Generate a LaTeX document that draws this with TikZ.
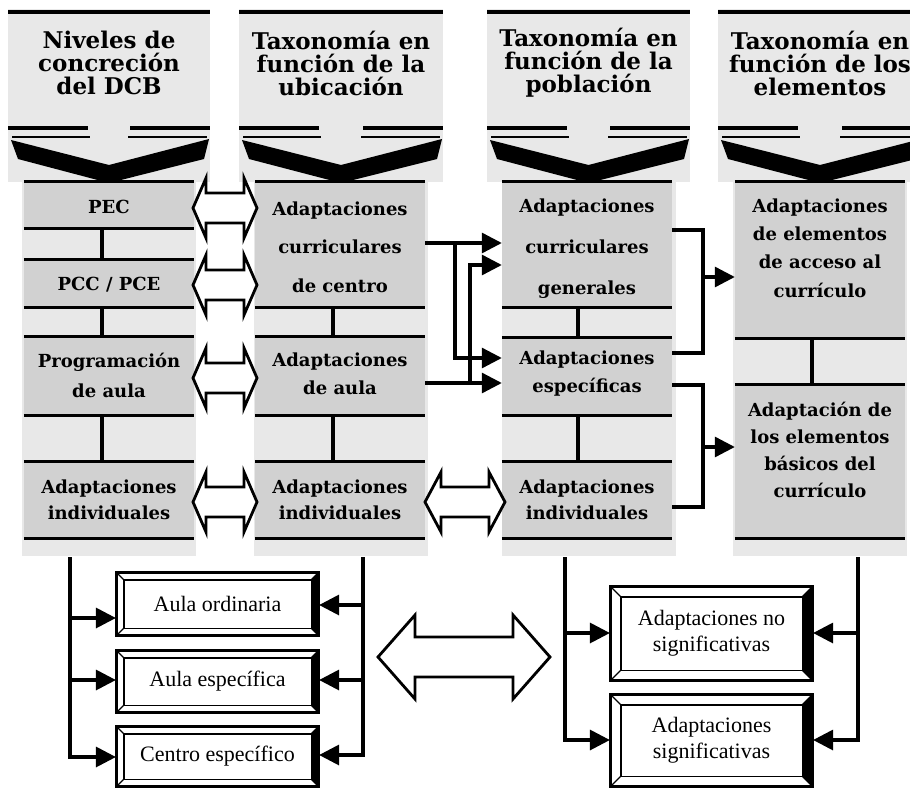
\documentclass[tikz,border=0pt]{standalone}
\usepackage{fontspec}
\setmainfont{Liberation Serif}
\newfontfamily\hdfont{DejaVu Serif}
\usetikzlibrary{arrows.meta}

\tikzset{
 rule/.style={line width=3.2pt},
 peg/.style={line width=4pt},
 conn/.style={line width=3.2pt},
 arr/.style={conn, -{Triangle[length=20pt,width=20pt]}},
 hollow/.style={draw, line width=2.8pt, fill=white, line join=miter},
 boxfill/.style={fill=gray!36, draw=none, inner sep=0pt, minimum width=170pt},
 hdtext/.style={font=\hdfont\bfseries\fontsize{23}{23}\selectfont, align=center, inner sep=0pt},
 bodytext/.style={font=\hdfont\bfseries\fontsize{18}{#1}\selectfont, align=center, inner sep=0pt},
 bodytext/.default=22,
 bevelbox/.style={draw, line width=2.2pt, fill=white, inner sep=0pt, font=\fontsize{22}{26}\selectfont, align=center},
}

\newcommand\hdr[4]{%
 \pgfmathsetmacro\hcx{(#1+#2)/2}
 \fill[gray!18] (#1,9) rectangle (#2,182);
 \fill[gray!18] (\hcx-87,182) rectangle (\hcx+87,556);
 \draw[rule] (#1,12) -- (#2,12);
 \draw[rule] (#1,128) -- (#1+80,128);
 \draw[rule] (#2-80,128) -- (#2,128);
 \draw[line width=1.6pt] (#1+4,137) -- (#1+82,137);
 \draw[line width=1.6pt] (#2-82,137) -- (#2-3,137);
 \fill (#1+3,140) -- (\hcx,165) -- (#2-1,139) -- (#2-6,159) -- (\hcx,183) -- (#1+10,159) -- cycle;
 \node[hdtext] (#3) at (\hcx,63) {#4};
}

\newcommand\bbox[4]{%
 \node[boxfill, minimum height={#4-#3}] (#1) at (#2,{(#3+#4)/2}) {};
 \draw[rule] (#1.north west) -- (#1.north east) (#1.south west) -- (#1.south east);
}

\newcommand\dbl[6]{%
 \draw[hollow] (#1,#3) -- (#1+#4,#3-#5) -- (#1+#4,#3-#6) -- (#2-#4,#3-#6) -- (#2-#4,#3-#5) -- (#2,#3) -- (#2-#4,#3+#5) -- (#2-#4,#3+#6) -- (#1+#4,#3+#6) -- (#1+#4,#3+#5) -- cycle;
}

\newcommand\bev[7]{%
 \node[bevelbox, minimum width=#4, minimum height=#5] (#1) at (#2,#3) {#7};
 \fill (#1.north east) -- (#1.south east) -- ([xshift=-#6pt,yshift=#6pt]#1.south east) -- ([xshift=-#6pt,yshift=-#6pt]#1.north east) -- cycle;
 \draw[line width=1.2pt] ([xshift=#6pt,yshift=-#6pt]#1.north west) rectangle ([xshift=-#6pt,yshift=#6pt]#1.south east);
 \draw[line width=1.2pt] (#1.north west) -- ([xshift=#6pt,yshift=-#6pt]#1.north west)
   (#1.south west) -- ([xshift=#6pt,yshift=#6pt]#1.south west)
   (#1.north east) -- ([xshift=-#6pt,yshift=-#6pt]#1.north east)
   (#1.south east) -- ([xshift=-#6pt,yshift=#6pt]#1.south east);
 \draw[line width=2.2pt] (#1.north west) rectangle (#1.south east);
}

\begin{document}
\begin{tikzpicture}[x=1pt,y=-1pt]
\useasboundingbox (0,0) rectangle (910,787);
\clip (0,0) rectangle (910,787);
\fill[white] (0,0) rectangle (910,787);

% headers
\hdr{8}{210}{h1}{Niveles de\\concreción\\del DCB}
\hdr{239}{443}{h2}{Taxonomía en\\función de la\\ubicación}
\hdr{487}{690}{h3}{Taxonomía en\\función de la\\población}
\hdr{718}{922}{h4}{Taxonomía en\\función de los\\elementos}

% body boxes
\bbox{pec}{109}{182}{228}
\bbox{pcc}{109}{260}{307}
\bbox{prog}{109}{337}{415}
\bbox{ind1}{109}{462}{538}
\bbox{acc}{340}{182}{307}
\bbox{ada}{340}{337}{415}
\bbox{ind2}{340}{462}{538}
\bbox{acg}{587}{182}{307}
\bbox{aes}{587}{338}{415}
\bbox{ind3}{587}{462}{538}
\bbox{aea}{820}{182}{338}
\bbox{aeb}{820}{385}{538}

% pegs
\draw[peg] ([xshift=-7pt]pec.south) -- ([xshift=-7pt]pcc.north);
\draw[peg] ([xshift=-7pt]pcc.south) -- ([xshift=-7pt]prog.north);
\draw[peg] ([xshift=-7pt]prog.south) -- ([xshift=-7pt]ind1.north);
\draw[peg] ([xshift=-7pt]acc.south) -- ([xshift=-7pt]ada.north);
\draw[peg] ([xshift=-7pt]ada.south) -- ([xshift=-7pt]ind2.north);
\draw[peg] ([xshift=-9pt]acg.south) -- ([xshift=-9pt]aes.north);
\draw[peg] ([xshift=-9pt]aes.south) -- ([xshift=-9pt]ind3.north);
\draw[peg] ([xshift=-8pt]aea.south) -- ([xshift=-8pt]aeb.north);

% body texts
\node[bodytext] (t1a) at (109,207) {PEC};
\node[bodytext] (t1b) at (109,285) {PCC / PCE};
\node[bodytext=30] (t1c) at (109,375) {Programación\\de aula};
\node[bodytext=26] (t1d) at (109,500) {Adaptaciones\\individuales};
\node[bodytext=38.5] (t2a) at (340,247) {Adaptaciones\\curriculares\\de centro};
\node[bodytext=28] (t2b) at (340,374) {Adaptaciones\\de aula};
\node[bodytext=26] (t2c) at (340,500) {Adaptaciones\\individuales};
\node[bodytext=41] (t3a) at (587,249) {Adaptaciones\\curriculares\\generales};
\node[bodytext=28] (t3b) at (587,374) {Adaptaciones\\específicas};
\node[bodytext=26] (t3c) at (587,500) {Adaptaciones\\individuales};
\node[bodytext=28.3] (t4a) at (820,248) {Adaptaciones\\de elementos\\de acceso al\\currículo};
\node[bodytext=27] (t4b) at (820,450) {Adaptación de\\los elementos\\básicos del\\currículo};

% hollow double arrows
\dbl{193}{257}{208}{13}{30}{15}
\dbl{193}{257}{285}{13}{30}{15}
\dbl{193}{257}{378}{13}{30}{15}
\dbl{193}{257}{502}{13}{30}{15}
\dbl{425}{505}{502}{16}{30}{15}
\dbl{378}{550}{657}{37}{42}{20}

% middle connectors
\coordinate (j1) at (455,243);
\coordinate (j2) at (470,383);
\draw[arr] (acc.east |- j1) -- (acg.west |- j1);
\draw[arr] (j1) |- (aes.west |- 0,358);
\draw[arr] (ada.east |- j2) -- (aes.west |- j2);
\draw[arr] (j2) |- (acg.west |- 0,265);

\coordinate (k1) at (703,277);
\coordinate (k2) at (703,447);
\draw[conn] (acg.east |- 0,230) -| (k1) |- (aes.east |- 0,353);
\draw[arr] (k1) -- (aea.west |- k1);
\draw[conn] (aes.east |- 0,385) -| (k2) |- (ind3.east |- 0,507);
\draw[arr] (k2) -- (aeb.west |- k2);

% bottom boxes
\bev{ao}{217.5}{604}{201}{62}{8}{Aula ordinaria}
\bev{ae}{217.5}{681.5}{201}{61}{8}{Aula específica}
\bev{ce}{217.5}{756.5}{201}{59}{8}{Centro específico}
\bev{ans}{711.5}{633.5}{201}{93}{11}{Adaptaciones no\\significativas}
\bev{as}{711.5}{740.5}{201}{91}{11}{Adaptaciones\\significativas}

% bottom connectors
\coordinate (v1) at (70,557);
\coordinate (v2) at (363,557);
\coordinate (v3) at (565,557);
\coordinate (v4) at (858,557);
\draw[arr] (v1) |- (ce.west |- 0,757);
\draw[arr] (v1 |- 0,618) -- (ao.west |- 0,618);
\draw[arr] (v1 |- 0,680) -- (ae.west |- 0,680);
\draw[arr] (v2) |- (ce.east |- 0,755);
\draw[arr] (v2 |- 0,605) -- (ao.east |- 0,605);
\draw[arr] (v2 |- 0,680) -- (ae.east |- 0,680);
\draw[arr] (v3) |- (as.west |- 0,740);
\draw[arr] (v3 |- 0,633) -- (ans.west |- 0,633);
\draw[arr] (v4) |- (as.east |- 0,740);
\draw[arr] (v4 |- 0,633) -- (ans.east |- 0,633);
\end{tikzpicture}
\end{document}
